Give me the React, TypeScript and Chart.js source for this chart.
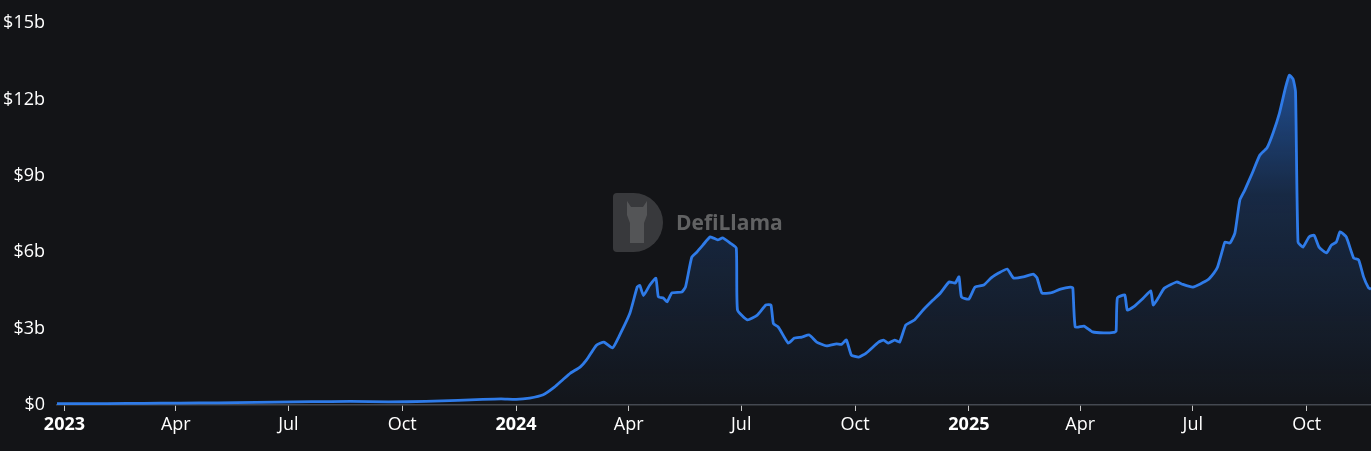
import React, { useEffect, useRef } from "react";
import { Chart, registerables } from "chart.js";

Chart.register(...registerables);

const DATES: string[] = [
  "2022-12-26","2023-01-20","2023-02-20","2023-03-20","2023-04-20","2023-05-20","2023-06-20","2023-07-20",
  "2023-08-20","2023-09-20","2023-10-20","2023-11-15","2023-12-05","2023-12-20","2024-01-01","2024-01-12",
  "2024-01-23","2024-02-01","2024-02-08","2024-02-14","2024-02-22","2024-02-27","2024-03-06","2024-03-12",
  "2024-03-19","2024-03-24","2024-04-02","2024-04-08","2024-04-10","2024-04-13","2024-04-18","2024-04-23",
  "2024-04-25","2024-04-29","2024-05-02","2024-05-06","2024-05-14","2024-05-17","2024-05-22","2024-05-26",
  "2024-05-31","2024-06-06","2024-06-12","2024-06-16","2024-06-22","2024-06-27","2024-06-28","2024-07-06",
  "2024-07-14","2024-07-21","2024-07-25","2024-07-27","2024-07-31","2024-08-08","2024-08-13","2024-08-19",
  "2024-08-25","2024-08-31","2024-09-08","2024-09-16","2024-09-20","2024-09-24","2024-09-28","2024-10-04",
  "2024-10-10","2024-10-20","2024-10-24","2024-10-28","2024-11-02","2024-11-06","2024-11-11","2024-11-18",
  "2024-11-25","2024-12-03","2024-12-09","2024-12-16","2024-12-21","2024-12-24","2024-12-26","2025-01-01",
  "2025-01-06","2025-01-13","2025-01-19","2025-01-25","2025-02-01","2025-02-06","2025-02-14","2025-02-22",
  "2025-02-25","2025-03-01","2025-03-08","2025-03-16","2025-03-24","2025-03-26","2025-03-28","2025-04-04",
  "2025-04-11","2025-04-20","2025-04-28","2025-04-30","2025-05-01","2025-05-07","2025-05-09","2025-05-14",
  "2025-05-22","2025-05-28","2025-05-30","2025-06-03","2025-06-08","2025-06-18","2025-06-22","2025-07-01",
  "2025-07-13","2025-07-18","2025-07-21","2025-07-25","2025-07-27","2025-07-31","2025-08-04","2025-08-08",
  "2025-08-12","2025-08-18","2025-08-24","2025-08-30","2025-09-04","2025-09-09","2025-09-14","2025-09-17",
  "2025-09-20","2025-09-22","2025-09-24","2025-09-28","2025-10-03","2025-10-07","2025-10-11","2025-10-17",
  "2025-10-21","2025-10-25","2025-10-28","2025-11-02","2025-11-08","2025-11-12","2025-11-16","2025-11-20",
  "2025-11-22",
];

// TVL in billions of USD
const TVL_B: number[] = [
  0.05,0.05,0.06,0.07,0.08,0.09,0.11,0.13,
  0.14,0.12,0.14,0.18,0.22,0.24,0.22,0.27,
  0.4,0.7,1.0,1.25,1.5,1.77,2.35,2.47,
  2.24,2.67,3.6,4.64,4.7,4.3,4.7,4.98,
  4.25,4.2,4.05,4.4,4.44,4.64,5.8,6.0,
  6.28,6.6,6.48,6.56,6.36,6.16,3.73,3.34,
  3.53,3.93,3.93,3.2,3.06,2.43,2.63,2.67,
  2.75,2.47,2.32,2.4,2.38,2.55,1.96,1.88,
  2.04,2.47,2.55,2.43,2.55,2.47,3.14,3.34,
  3.73,4.12,4.4,4.83,4.79,5.03,4.24,4.16,
  4.63,4.71,4.99,5.18,5.34,4.99,5.03,5.14,
  5.0,4.4,4.4,4.55,4.63,4.6,3.06,3.1,
  2.87,2.83,2.85,2.9,4.2,4.32,3.73,3.85,
  4.2,4.48,3.93,4.2,4.59,4.83,4.75,4.63,
  4.91,5.18,5.42,6.09,6.4,6.36,6.75,8.05,
  8.44,9.1,9.8,10.1,10.7,11.46,12.48,12.95,
  12.8,12.3,6.4,6.2,6.6,6.67,6.2,5.97,
  6.28,6.4,6.8,6.6,5.77,5.7,5.03,4.6,
  4.55,
];

const X_TICK_DATES: string[] = [
  "2023-01-01","2023-04-01","2023-07-01","2023-10-01",
  "2024-01-01","2024-04-01","2024-07-01","2024-10-01",
  "2025-01-01","2025-04-01","2025-07-01","2025-10-01",
];
const MONTH_NAMES: string[] = ["Jan","Feb","Mar","Apr","May","Jun","Jul","Aug","Sep","Oct","Nov","Dec"];
const Y_TICKS: number[] = [0, 3, 6, 9, 12, 15];

const EPOCH = Date.UTC(2023, 0, 1);
const toDay = (s: string) => {
  const [y, m, d] = s.split("-").map(Number);
  return (Date.UTC(y, m - 1, d) - EPOCH) / 86400000;
};
const tickLabel = (s: string) => {
  const [y, m] = s.split("-").map(Number);
  return m === 1 ? String(y) : MONTH_NAMES[m - 1];
};

const BG = "#131417";
const LINE = "#2f7be8";
const FONT = '"Open Sans", "Noto Sans", sans-serif';

const watermark = {
  id: "watermark",
  beforeDatasetsDraw(chart: any) {
    const { ctx, chartArea } = chart;
    const cx = (chartArea.left + chartArea.right) / 2;
    const cy = (chartArea.top + chartArea.bottom) / 2;
    const lx = cx - 101; // logo left
    const ty = cy - 21; // logo top
    const h = 59;
    const r = h / 2;
    ctx.save();
    // D shape
    ctx.beginPath();
    ctx.moveTo(lx + 4, ty);
    ctx.lineTo(lx + 50 - r, ty);
    ctx.arc(lx + 50 - r, ty + r, r, -Math.PI / 2, Math.PI / 2);
    ctx.lineTo(lx + 4, ty + h);
    ctx.quadraticCurveTo(lx, ty + h, lx, ty + h - 4);
    ctx.lineTo(lx, ty + 4);
    ctx.quadraticCurveTo(lx, ty, lx + 4, ty);
    ctx.closePath();
    ctx.fillStyle = "rgba(255,255,255,0.16)";
    ctx.fill();
    // llama silhouette
    ctx.beginPath();
    ctx.moveTo(lx + 14, ty + 8);
    ctx.lineTo(lx + 18, ty + 14);
    ctx.lineTo(lx + 30, ty + 14);
    ctx.lineTo(lx + 34, ty + 8);
    ctx.lineTo(lx + 34, ty + 22);
    ctx.lineTo(lx + 31, ty + 30);
    ctx.lineTo(lx + 31, ty + 50);
    ctx.lineTo(lx + 17, ty + 50);
    ctx.lineTo(lx + 17, ty + 30);
    ctx.lineTo(lx + 14, ty + 22);
    ctx.closePath();
    ctx.fillStyle = "rgba(255,255,255,0.14)";
    ctx.fill();
    // text
    ctx.fillStyle = "rgba(150,150,150,0.6)";
    ctx.font = `bold 21px ${FONT}`;
    ctx.textBaseline = "middle";
    ctx.textAlign = "left";
    ctx.fillText("DefiLlama", lx + 63, ty + r + 2);
    ctx.restore();
  },
};

export default function App() {
  const ref = useRef<HTMLCanvasElement | null>(null);

  useEffect(() => {
    if (!ref.current) return;
    document.body.style.margin = "0";
    document.body.style.background = BG;
    const points = DATES.map((d, i) => ({ x: toDay(d), y: TVL_B[i] }));
    const chart = new Chart(ref.current, {
      type: "line",
      data: {
        datasets: [
          {
            data: points,
            borderColor: LINE,
            borderWidth: 2.8,
            pointRadius: 0,
            tension: 0.15,
            fill: "origin",
            backgroundColor: (c: any) => {
              const area = c.chart.chartArea;
              if (!area) return "rgba(47,123,232,0.2)";
              const g = c.chart.ctx.createLinearGradient(0, area.top, 0, area.bottom);
              g.addColorStop(0, "rgba(41,118,230,0.75)");
              g.addColorStop(0.45, "rgba(41,118,230,0.22)");
              g.addColorStop(1, "rgba(41,118,230,0.02)");
              return g;
            },
          },
        ],
      },
      options: {
        animation: false,
        responsive: true,
        maintainAspectRatio: false,
        layout: { padding: { top: 23, left: 0, right: 0, bottom: 0 } },
        plugins: { legend: { display: false }, tooltip: { enabled: false } },
        scales: {
          x: {
            type: "linear",
            min: toDay(DATES[0]),
            max: toDay(DATES[DATES.length - 1]),
            afterBuildTicks: (scale: any) => {
              scale.ticks = X_TICK_DATES.map((d) => ({
                value: toDay(d),
                major: d.endsWith("-01-01"),
                label: tickLabel(d),
              }));
            },
            afterFit: (scale: any) => {
              scale.height = 46;
            },
            ticks: {
              autoSkip: false,
              maxRotation: 0,
              padding: 3,
              color: "#ffffff",
              font: (c: any) => ({
                family: FONT,
                size: 18,
                weight: c.tick && c.tick.major ? "bold" : "normal",
              }),
              callback: (v: any, i: number) => tickLabel(X_TICK_DATES[i]),
            },
            grid: {
              display: true,
              drawOnChartArea: false,
              drawTicks: true,
              tickLength: 6,
              color: "#c8c8c8",
            },
            border: { display: true, color: "#45484e", width: 1.5 },
          },
          y: {
            min: 0,
            max: 15,
            afterBuildTicks: (scale: any) => {
              scale.ticks = Y_TICKS.map((v) => ({ value: v }));
            },
            afterFit: (scale: any) => {
              scale.width = 57;
            },
            ticks: {
              padding: 12,
              color: "#ffffff",
              font: { family: FONT, size: 18 },
              callback: (v: any) => (v === 0 ? "$0" : `$${v}b`),
            },
            grid: { display: false, drawTicks: false },
            border: { display: false },
          },
        },
      },
      plugins: [watermark],
    });
    return () => chart.destroy();
  }, []);

  return (
    <div
      style={{
        position: "fixed",
        left: 0,
        top: 0,
        width: 1371,
        height: 451,
        background: BG,
      }}
    >
      <canvas ref={ref} />
    </div>
  );
}
